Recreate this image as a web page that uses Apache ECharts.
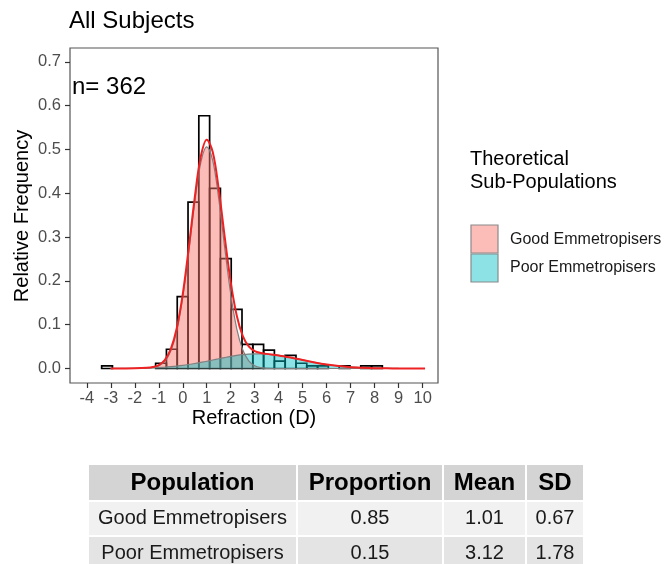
<!DOCTYPE html>
<html>
<head>
<meta charset="utf-8">
<script src="https://cdn.jsdelivr.net/npm/echarts@6/dist/echarts.min.js"></script>
<style>
html, body { margin: 0; padding: 0; background: #fff; }
#main { width: 665px; height: 564px; }
</style>
</head>
<body>
<div id="main"></div>
<script>
// histogram bins (refraction, D) and relative frequency
var binWidth = 0.45;
var binLeft = [-3.38, -1.13, -0.68, -0.23, 0.22, 0.67, 1.12, 1.57, 2.02, 2.47, 2.92, 3.37, 3.82, 4.27, 4.72, 5.17, 5.62, 6.52, 7.42, 7.87];
var relFreq = [0.006, 0.012, 0.044, 0.164, 0.380, 0.577, 0.411, 0.251, 0.135, 0.055, 0.055, 0.042, 0.017, 0.030, 0.012, 0.006, 0.006, 0.006, 0.006, 0.006];

// fitted curves
var curveX = [-3, -2.5, -2, -1.5, -1.25, -1, -0.75, -0.5, -0.25, 0, 0.25, 0.5, 0.75, 1, 1.25, 1.5, 1.75, 2, 2.25, 2.5, 2.75, 3, 3.25, 3.5, 4, 4.5, 5, 5.5, 6, 6.5, 7, 7.5, 8, 8.5, 9, 10.1];
var goodCurve = [0, 0, 0, 0.0005, 0.0017, 0.0056, 0.0161, 0.0399, 0.0863, 0.1625, 0.266, 0.3788, 0.4694, 0.506, 0.4747, 0.3873, 0.275, 0.1698, 0.0913, 0.0427, 0.0174, 0.0062, 0.0019, 0.0005, 0, 0, 0, 0, 0, 0, 0, 0, 0, 0, 0, 0];
var poorCurve = [0.0001, 0.0002, 0.0005, 0.0012, 0.0017, 0.0023, 0.0032, 0.0043, 0.0056, 0.0072, 0.0092, 0.0114, 0.0139, 0.0165, 0.0194, 0.0222, 0.025, 0.0276, 0.0298, 0.0316, 0.0329, 0.0335, 0.0335, 0.0329, 0.0298, 0.0249, 0.0193, 0.0138, 0.0091, 0.0055, 0.0031, 0.0016, 0.0008, 0.0004, 0.0001, 0];
var totalCurve = [0.0001, 0.0002, 0.0005, 0.0017, 0.0034, 0.0079, 0.0193, 0.0442, 0.0919, 0.1697, 0.2752, 0.3902, 0.4833, 0.5225, 0.4941, 0.4095, 0.3, 0.1974, 0.1211, 0.0743, 0.0503, 0.0397, 0.0354, 0.0334, 0.0298, 0.0249, 0.0193, 0.0138, 0.0091, 0.0055, 0.0031, 0.0016, 0.0008, 0.0004, 0.0001, 0];

var xTicks = [-4, -3, -2, -1, 0, 1, 2, 3, 4, 5, 6, 7, 8, 9, 10];
var yTicks = [0, 0.1, 0.2, 0.3, 0.4, 0.5, 0.6, 0.7];

var legendNames = ['Good Emmetropisers', 'Poor Emmetropisers'];

// summary table
var tableHeader = ['Population', 'Proportion', 'Mean', 'SD'];
var populations = ['Good Emmetropisers', 'Poor Emmetropisers'];
var proportions = ['0.85', '0.15'];
var means = ['1.01', '3.12'];
var sds = ['0.67', '1.78'];

var FONT = '"Liberation Sans", Arial, Helvetica, sans-serif';
var pinkFill = 'rgba(248,118,109,0.48)';
var tealFill = 'rgba(0,191,196,0.45)';

function pairs(xs, ys) {
  return xs.map(function (x, i) { return [x, ys[i]]; });
}

var histData = binLeft.map(function (l, i) { return [l, +(l + binWidth).toFixed(2), relFreq[i]]; });

// table graphics
var colX = [89, 298, 444, 527];
var colW = [207, 144, 81, 56];
var rowY = [465, 502, 537];
var rowH = [35, 33, 33];
var rowBg = ['#d4d4d4', '#f1f1f1', '#e4e4e4'];
var tableRows = [tableHeader];
populations.forEach(function (p, i) { tableRows.push([p, proportions[i], means[i], sds[i]]); });

var tableGraphics = [];
tableRows.forEach(function (row, r) {
  row.forEach(function (cell, c) {
    tableGraphics.push({
      type: 'rect',
      shape: { x: colX[c], y: rowY[r], width: colW[c], height: rowH[r] },
      style: { fill: rowBg[r] },
      silent: true
    });
    tableGraphics.push({
      type: 'text',
      x: colX[c] + colW[c] / 2,
      y: rowY[r] + rowH[r] / 2 + (r === 0 ? 1 : 0),
      style: {
        text: cell,
        fill: r === 0 ? '#000' : '#1a1a1a',
        fontFamily: FONT,
        fontSize: r === 0 ? 24 : 20,
        fontWeight: r === 0 ? 'bold' : 'normal',
        textAlign: 'center',
        textVerticalAlign: 'middle'
      }
    });
  });
});

var myChart = echarts.init(document.getElementById('main'));
option = {
  backgroundColor: '#fff',
  animation: false,
  title: {
    text: 'All Subjects',
    left: 69,
    top: 9,
    padding: 0,
    textStyle: { fontFamily: FONT, fontSize: 24, fontWeight: 'normal', color: '#000' }
  },
  grid: {
    left: 70, top: 48, width: 368, height: 335,
    containLabel: false,
    outerBoundsMode: 'none',
    show: true,
    borderColor: '#555',
    borderWidth: 1.2,
    backgroundColor: '#fff'
  },
  xAxis: {
    type: 'value',
    min: -4.7,
    max: 10.64,
    position: 'bottom',
    axisLine: { show: false, onZero: false },
    splitLine: { show: false },
    axisTick: { show: true, length: 5, lineStyle: { color: '#333', width: 1.2 }, customValues: xTicks },
    axisLabel: { customValues: xTicks, color: '#4d4d4d', fontFamily: FONT, fontSize: 16.5, margin: 7 }
  },
  yAxis: {
    type: 'value',
    min: -0.0331,
    max: 0.7317,
    position: 'left',
    axisLine: { show: false, onZero: false },
    splitLine: { show: false },
    axisTick: { show: true, length: 5, lineStyle: { color: '#333', width: 1.2 }, customValues: yTicks },
    axisLabel: {
      customValues: yTicks, color: '#4d4d4d', fontFamily: FONT, fontSize: 16.5, margin: 9,
      formatter: function (v) { return v.toFixed(1); }
    }
  },
  graphic: [
    { type: 'text', x: 72, y: 87, style: { text: 'n= 362', fill: '#000', fontFamily: FONT, fontSize: 24, textVerticalAlign: 'middle' } },
    { type: 'text', x: 254, y: 418, style: { text: 'Refraction (D)', fill: '#000', fontFamily: FONT, fontSize: 20, textAlign: 'center', textVerticalAlign: 'middle' } },
    { type: 'text', x: 22, y: 216, rotation: Math.PI / 2, style: { text: 'Relative Frequency', fill: '#000', fontFamily: FONT, fontSize: 20, textAlign: 'center', textVerticalAlign: 'middle' } },
    { type: 'text', x: 470, y: 159, style: { text: 'Theoretical', fill: '#000', fontFamily: FONT, fontSize: 20, textVerticalAlign: 'middle' } },
    { type: 'text', x: 470, y: 182, style: { text: 'Sub-Populations', fill: '#000', fontFamily: FONT, fontSize: 20, textVerticalAlign: 'middle' } },
    { type: 'rect', shape: { x: 471, y: 225, width: 27, height: 28 }, style: { fill: pinkFill, stroke: '#8a8a8a', lineWidth: 1.2 } },
    { type: 'rect', shape: { x: 471, y: 254, width: 27, height: 28 }, style: { fill: tealFill, stroke: '#8a8a8a', lineWidth: 1.2 } },
    { type: 'text', x: 510, y: 240, style: { text: legendNames[0], fill: '#1a1a1a', fontFamily: FONT, fontSize: 16, textVerticalAlign: 'middle' } },
    { type: 'text', x: 510, y: 268, style: { text: legendNames[1], fill: '#1a1a1a', fontFamily: FONT, fontSize: 16, textVerticalAlign: 'middle' } }
  ].concat(tableGraphics),
  series: [
    {
      type: 'custom',
      name: 'histogram',
      data: histData,
      encode: { x: [0, 1], y: 2 },
      renderItem: function (params, api) {
        var p0 = api.coord([api.value(0), api.value(2)]);
        var p1 = api.coord([api.value(1), 0]);
        return {
          type: 'rect',
          shape: { x: p0[0], y: p0[1], width: p1[0] - p0[0], height: p1[1] - p0[1] },
          style: { fill: 'none', stroke: '#000', lineWidth: 1.7 }
        };
      }
    },
    {
      type: 'line',
      name: legendNames[0],
      data: pairs(curveX, goodCurve),
      smooth: 0.35,
      showSymbol: false,
      lineStyle: { color: '#7f7f7f', width: 1.2 },
      areaStyle: { color: pinkFill, opacity: 1 }
    },
    {
      type: 'line',
      name: legendNames[1],
      data: pairs(curveX, poorCurve),
      smooth: 0.35,
      showSymbol: false,
      lineStyle: { color: '#7f7f7f', width: 1.2 },
      areaStyle: { color: tealFill, opacity: 1 }
    },
    {
      type: 'line',
      name: 'total',
      data: pairs(curveX, totalCurve),
      smooth: 0.35,
      showSymbol: false,
      lineStyle: { color: '#ee2222', width: 2 }
    }
  ]
};
myChart.setOption(option);

window.addEventListener('resize', function () {
  myChart.resize();
});
</script>
</body>
</html>
